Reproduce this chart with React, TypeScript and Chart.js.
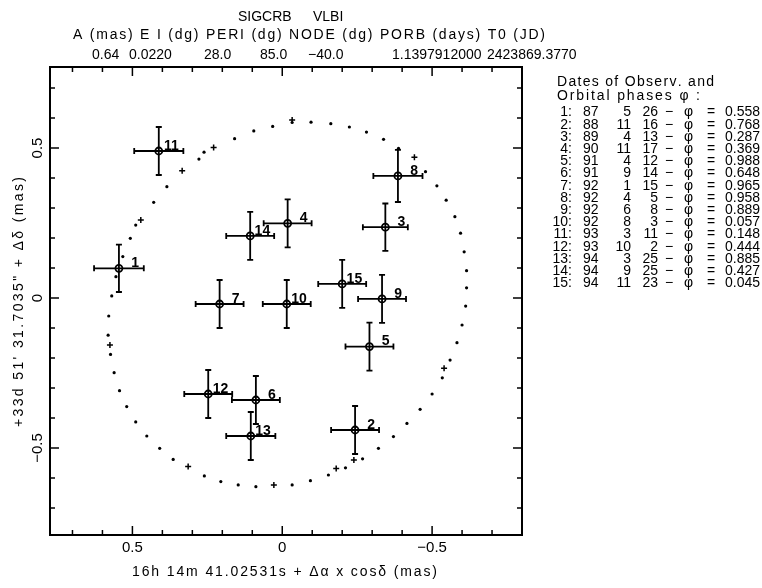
import React, { useEffect, useRef } from "react";
import { Chart, registerables } from "chart.js";

Chart.register(...registerables);

// ---------- data ----------
const obsIds = [1, 2, 3, 4, 5, 6, 7, 8, 9, 10, 11, 12, 13, 14, 15];
const obsX = [0.545, -0.243, -0.344, -0.018, -0.291, 0.088, 0.209, -0.386, -0.333, -0.015, 0.412, 0.247, 0.105, 0.107, -0.2];
const obsY = [0.099, -0.44, 0.236, 0.249, -0.162, -0.34, -0.02, 0.407, -0.003, -0.02, 0.49, -0.32, -0.46, 0.207, 0.047];
const errX = [0.083, 0.08, 0.075, 0.08, 0.08, 0.08, 0.08, 0.082, 0.08, 0.08, 0.082, 0.08, 0.082, 0.08, 0.08];
const errY = [0.079, 0.08, 0.079, 0.08, 0.08, 0.08, 0.08, 0.087, 0.08, 0.08, 0.08, 0.08, 0.08, 0.08, 0.08];

const orbitX = [0.579, 0.569, 0.555, 0.532, 0.507, 0.489, 0.429, 0.385, 0.278, 0.261, 0.159, 0.095, 0.032, -0.033, -0.096, -0.162, -0.224, -0.281, -0.338, -0.388, -0.478, -0.516, -0.547, -0.576, -0.595, -0.607, -0.615, -0.615, -0.612, -0.6, -0.583, -0.56, -0.534, -0.5, -0.46, -0.416, -0.371, -0.321, -0.268, -0.211, -0.154, -0.094, -0.033, 0.088, 0.147, 0.205, 0.26, 0.364, 0.409, 0.452, 0.489, 0.519, 0.543, 0.561, 0.573, 0.581];
const orbitY = [-0.06, 0.007, 0.071, 0.138, 0.199, 0.243, 0.319, 0.371, 0.463, 0.486, 0.531, 0.557, 0.572, 0.585, 0.586, 0.581, 0.57, 0.553, 0.529, 0.499, 0.421, 0.374, 0.326, 0.271, 0.216, 0.154, 0.091, 0.034, -0.027, -0.09, -0.149, -0.207, -0.266, -0.32, -0.371, -0.418, -0.462, -0.501, -0.536, -0.566, -0.59, -0.609, -0.623, -0.629, -0.623, -0.612, -0.593, -0.538, -0.501, -0.46, -0.413, -0.362, -0.309, -0.249, -0.188, -0.124];

const markX = [0.472, 0.334, 0.229, -0.033, -0.441, -0.54, -0.239, -0.18, 0.028, 0.314, 0.575];
const markY = [0.26, 0.424, 0.502, 0.593, 0.469, -0.234, -0.54, -0.568, -0.623, -0.562, -0.157];

const xTickLabels = ["0.5", "0", "\u22120.5"];
const xTickValues = [0.5, 0, -0.5];
const yTickLabels = ["0.5", "0", "\u22120.5"];
const yTickValues = [0.5, 0, -0.5];

const titleWords = ["SIGCRB", "VLBI"];
const elemHeader = "A (mas) E I (dg) PERI (dg) NODE (dg) PORB (days) T0 (JD)";
const elemValues = ["0.64", "0.0220", "28.0", "85.0", "\u221240.0", "1.1397912000", "2423869.3770"];

const obsYear = [87, 88, 89, 90, 91, 91, 92, 92, 92, 92, 93, 93, 94, 94, 94];
const obsMonth = [5, 11, 4, 11, 4, 9, 1, 4, 6, 8, 3, 10, 3, 9, 11];
const obsDay = [26, 16, 13, 17, 12, 14, 15, 5, 8, 3, 11, 2, 25, 25, 23];
const obsPhase = ["0.558", "0.768", "0.287", "0.369", "0.988", "0.648", "0.965", "0.958", "0.889", "0.057", "0.148", "0.444", "0.885", "0.427", "0.045"];

const legendTitle = ["Dates of Observ. and", "Orbital phases \u03c6 :"];
const xTitle = "16h 14m 41.02531s + \u0394\u03b1 x cos\u03b4 (mas)";
const yTitle = "+33d 51' 31.7035\" + \u0394\u03b4 (mas)";

// ---------- layout (styles) ----------
const FONT = "'Liberation Sans', Arial, Helvetica, sans-serif";
const elemValueX = [92, 129, 204, 260, 308, 392, 487];
const titleX = [238, 313];

// draw text stretched (by letter spacing) to cover a given width, starting at x
function drawFit(ctx: CanvasRenderingContext2D, text: string, x: number, y: number, width: number) {
  const chars = Array.from(text);
  const natural = ctx.measureText(text).width;
  const extra = chars.length > 1 ? (width - natural) / (chars.length - 1) : 0;
  const prevAlign = ctx.textAlign;
  ctx.textAlign = "left";
  let cx = x;
  for (const ch of chars) {
    ctx.fillText(ch, cx, y);
    cx += ctx.measureText(ch).width + extra;
  }
  ctx.textAlign = prevAlign;
}

const overlay = {
  id: "overlay",
  afterDatasetsDraw(chart: any) {
    const ctx = chart.ctx;
    const xs = chart.scales.x;
    const ys = chart.scales.y;
    ctx.save();
    ctx.strokeStyle = "#000";
    ctx.lineWidth = 1.8;
    const cap = 3;
    for (let i = 0; i < obsX.length; i++) {
      const px = xs.getPixelForValue(obsX[i]);
      const py = ys.getPixelForValue(obsY[i]);
      const x1 = xs.getPixelForValue(obsX[i] + errX[i]);
      const x2 = xs.getPixelForValue(obsX[i] - errX[i]);
      const y1 = ys.getPixelForValue(obsY[i] + errY[i]);
      const y2 = ys.getPixelForValue(obsY[i] - errY[i]);
      ctx.beginPath();
      ctx.moveTo(x1, py); ctx.lineTo(x2, py);
      ctx.moveTo(x1, py - cap); ctx.lineTo(x1, py + cap);
      ctx.moveTo(x2, py - cap); ctx.lineTo(x2, py + cap);
      ctx.moveTo(px, y1); ctx.lineTo(px, y2);
      ctx.moveTo(px - cap, y1); ctx.lineTo(px + cap, y1);
      ctx.moveTo(px - cap, y2); ctx.lineTo(px + cap, y2);
      ctx.stroke();
      ctx.fillStyle = "#000";
      ctx.font = "bold 14px " + FONT;
      ctx.textAlign = "right";
      ctx.textBaseline = "middle";
      ctx.fillText(String(obsIds[i]), px + 20, py - 5);
    }
    ctx.restore();
  },
  afterDraw(chart: any) {
    const ctx = chart.ctx;
    const xs = chart.scales.x;
    const ys = chart.scales.y;
    const a = chart.chartArea;
    ctx.save();
    ctx.strokeStyle = "#000";
    ctx.fillStyle = "#000";
    // frame
    ctx.lineWidth = 2;
    ctx.strokeRect(a.left, a.top, a.right - a.left, a.bottom - a.top);
    // ticks
    ctx.lineWidth = 1.5;
    ctx.beginPath();
    for (let k = -7; k <= 7; k++) {
      const v = k / 10;
      const len = k % 5 === 0 ? 9 : 5;
      const px = xs.getPixelForValue(v);
      ctx.moveTo(px, a.bottom); ctx.lineTo(px, a.bottom - len);
      ctx.moveTo(px, a.top); ctx.lineTo(px, a.top + len);
      const py = ys.getPixelForValue(v);
      ctx.moveTo(a.left, py); ctx.lineTo(a.left + len, py);
      ctx.moveTo(a.right, py); ctx.lineTo(a.right - len, py);
    }
    ctx.stroke();
    // tick labels
    ctx.font = "15px " + FONT;
    ctx.textAlign = "center";
    ctx.textBaseline = "middle";
    xTickValues.forEach((v, i) => {
      ctx.fillText(xTickLabels[i], xs.getPixelForValue(v), a.bottom + 13);
    });
    yTickValues.forEach((v, i) => {
      ctx.save();
      ctx.translate(a.left - 12, ys.getPixelForValue(v));
      ctx.rotate(-Math.PI / 2);
      ctx.fillText(yTickLabels[i], 0, 0);
      ctx.restore();
    });
    // axis titles
    ctx.font = "14px " + FONT;
    drawFit(ctx, xTitle, 132, 572, 305);
    ctx.save();
    ctx.translate(19, 302);
    ctx.rotate(-Math.PI / 2);
    drawFit(ctx, yTitle, -125, 0, 250);
    ctx.restore();
    // header
    ctx.textAlign = "left";
    ctx.font = "14px " + FONT;
    titleWords.forEach((w, i) => ctx.fillText(w, titleX[i], 17));
    drawFit(ctx, elemHeader, 73, 35, 472);
    elemValues.forEach((w, i) => ctx.fillText(w, elemValueX[i], 55));
    // legend
    drawFit(ctx, legendTitle[0], 557, 82, 156);
    drawFit(ctx, legendTitle[1], 557, 96, 143);
    ctx.font = "14px " + FONT;
    for (let i = 0; i < obsIds.length; i++) {
      const y = 112.6 + i * 12.2;
      ctx.textAlign = "right";
      ctx.fillText(obsIds[i] + ":", 572, y);
      ctx.textAlign = "left";
      ctx.fillText(String(obsYear[i]), 583, y);
      ctx.textAlign = "right";
      ctx.fillText(String(obsMonth[i]), 631, y);
      ctx.fillText(String(obsDay[i]), 658, y);
      ctx.textAlign = "left";
      ctx.fillText("\u2212", 665, y);
      ctx.fillText("\u03c6", 684, y);
      ctx.fillText("=", 707, y);
      ctx.fillText(obsPhase[i], 725, y);
    }
    ctx.restore();
  },
};

export default function App() {
  const ref = useRef<HTMLCanvasElement | null>(null);
  useEffect(() => {
    if (!ref.current) return;
    const chart = new Chart(ref.current, {
      type: "scatter",
      data: {
        datasets: [
          {
            label: "orbit",
            data: orbitX.map((x, i) => ({ x, y: orbitY[i] })),
            pointRadius: 1.6,
            pointBackgroundColor: "#000",
            pointBorderWidth: 0,
            showLine: false,
          },
          {
            label: "marks",
            data: markX.map((x, i) => ({ x, y: markY[i] })),
            pointStyle: "cross",
            pointRadius: 3,
            pointBorderColor: "#000",
            pointBorderWidth: 1.5,
            showLine: false,
          },
          {
            label: "observations",
            data: obsX.map((x, i) => ({ x, y: obsY[i] })),
            pointStyle: "circle",
            pointRadius: 3.5,
            pointBackgroundColor: "rgba(0,0,0,0)",
            pointBorderColor: "#000",
            pointBorderWidth: 1.8,
            showLine: false,
          },
        ],
      },
      options: {
        animation: false,
        responsive: false,
        devicePixelRatio: 1,
        events: [],
        layout: { padding: { left: 50, right: 240, top: 67, bottom: 53 } },
        plugins: { legend: { display: false }, tooltip: { enabled: false } },
        scales: {
          x: { type: "linear", min: -0.8, max: 0.775, reverse: true, display: false },
          y: { type: "linear", min: -0.79, max: 0.77, display: false },
        },
      },
      plugins: [overlay],
    });
    return () => chart.destroy();
  }, []);
  return (
    <div style={{ position: "absolute", left: 0, top: 0, width: 762, height: 588, background: "#fff" }}>
      <canvas ref={ref} width={762} height={588} />
    </div>
  );
}
